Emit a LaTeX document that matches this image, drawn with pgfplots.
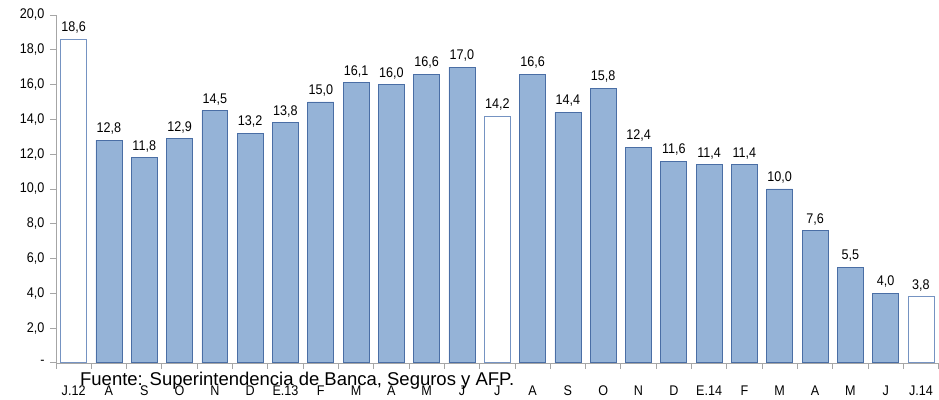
\documentclass[border=0pt]{standalone}
\usepackage{fontspec}
\setmainfont{Liberation Sans}
\newfontfamily\narrowfont[FakeStretch=0.9]{Liberation Sans}
\usepackage{pgfplots}
\pgfplotsset{compat=1.18}
\definecolor{barblue}{HTML}{95B3D7}
\definecolor{baredge}{HTML}{4A6EA5}
\definecolor{whiteedge}{HTML}{7593C2}
\definecolor{axgray}{HTML}{A6A6A6}
\begin{document}
\begin{tikzpicture}
\path (0,0) rectangle (939pt,400pt);
\begin{axis}[
  at={(56pt,37pt)}, anchor=south west,
  scale only axis, width=883pt, height=348pt,
  xmin=-0.5, xmax=24.5, ymin=0, ymax=20,
  axis x line*=bottom, axis y line*=left,
  axis line style={axgray, -},
  xtick={0,...,24},
  xticklabels={J.12,A,S,O,N,D,E.13,F,M,A,M,J,J,A,S,O,N,D,E.14,F,M,A,M,J,J.14},
  minor xtick={-0.5,0.5,...,24.5},
  ytick={0,2,...,20},
  yticklabels={-,{2,0},{4,0},{6,0},{8,0},{10,0},{12,0},{14,0},{16,0},{18,0},{20,0}},
  tick align=outside,
  major tick length=6pt, minor tick length=6pt,
  tick style={axgray, line width=0.8pt},
  major x tick style={draw=none},
  xticklabel style={font=\narrowfont\fontsize{14}{16}\selectfont, text=black, yshift=-13pt},
  yticklabel style={font=\narrowfont\fontsize{14}{16}\selectfont, text=black, xshift=-2pt},
  nodes near coords,
  point meta=y,
  /pgf/number format/.cd, fixed, fixed zerofill, precision=1, use comma, assume math mode=true,
  /pgfplots/.cd,
  every node near coord/.append style={font=\narrowfont\fontsize{14}{16}\selectfont, text=black, anchor=south, yshift=2pt},
]
\addplot[ybar, bar width=26pt, fill=barblue, draw=baredge, line width=0.7pt] coordinates {
(1,12.8) (2,11.8) (3,12.9) (4,14.5) (5,13.2) (6,13.8) (7,15.0) (8,16.1) (9,16.0) (10,16.6) (11,17.0)
(13,16.6) (14,14.4) (15,15.8) (16,12.4) (17,11.6) (18,11.4) (19,11.4) (20,10.0) (21,7.6) (22,5.5) (23,4.0)
};
\addplot[ybar, bar width=26pt, fill=white, draw=whiteedge, line width=0.7pt] coordinates {
(0,18.6) (12,14.2) (24,3.8)
};
\end{axis}
\node[anchor=base west, font=\fontsize{18.5}{20}\selectfont, inner sep=0pt] at (80pt,14pt) {Fuente: Superintendencia de Banca, Seguros y AFP.};
\end{tikzpicture}
\end{document}
